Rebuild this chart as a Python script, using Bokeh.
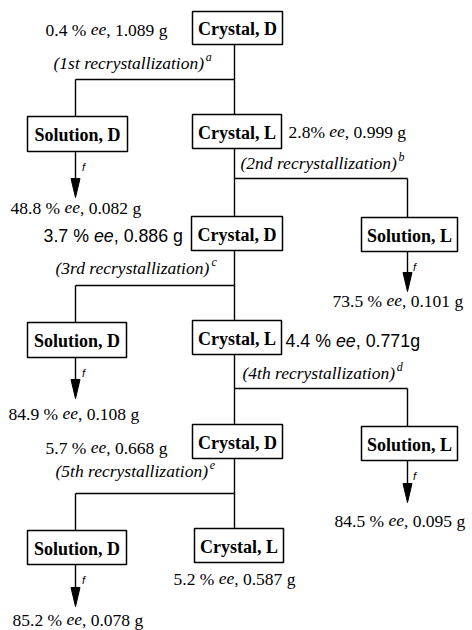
from bokeh.plotting import figure
from bokeh.models import Range1d
from bokeh.core.properties import value
from bokeh.embed import file_html
from bokeh.resources import INLINE

# ---------------- data ----------------
node_labels = ["Crystal, D", "Solution, D", "Crystal, L", "Crystal, D", "Solution, L",
               "Solution, D", "Crystal, L", "Crystal, D", "Solution, L", "Solution, D", "Crystal, L"]
ee_pct = [0.4, 48.8, 2.8, 3.7, 73.5, 84.9, 4.4, 5.7, 84.5, 85.2, 5.2]
mass_g = [1.089, 0.082, 0.999, 0.886, 0.101, 0.108, 0.771, 0.668, 0.095, 0.078, 0.587]
steps = ["1st", "2nd", "3rd", "4th", "5th"]
step_notes = ["a", "b", "c", "d", "e"]
step_parent = [0, 2, 3, 6, 7]
step_children = [(1, 2), (3, 4), (5, 6), (7, 8), (9, 10)]
solution_nodes = [1, 4, 5, 8, 9]
filtrate_note = "f"

# ---------------- layout (pixel coordinates of the page) ----------------
box_x0 = [192, 27, 192, 191, 361, 27, 192, 192, 361, 27, 194]
box_x1 = [282, 127, 281, 282, 457, 126, 281, 282, 457, 126, 283]
box_y0 = [11, 116, 114, 216, 217, 322, 320, 424, 426, 530, 528]
box_h = [33, 35, 34, 34, 34, 35, 34, 34, 34, 34, 34]
trunk_x = 234
branch_y = [79, 178, 285, 388, 493]
branch_side_x = [75, 407, 75, 407, 75]
arrow_tip_y = [197, 291, 398, 502, 606]
step_lx = [53, 240, 55, 242, 55]
step_ly = [62, 162, 267, 372, 470]
val_lx = [45, 10, 288, 43, 332, 8, 285, 45, 334, 12, 173]
val_ly = [29, 207, 131, 235, 300, 413, 340, 447, 520, 619, 578]
val_sans = [False, False, False, True, False, False, True, False, False, False, False]
pct_space = [True, True, False, True, True, True, True, True, True, True, True]
g_space = [True, True, True, True, True, True, False, True, True, True, True]

SERIF = "Liberation Serif"
SANS = "Liberation Sans"
FS_BOX = 18
FS = 17.5
FS_SANS = 17.8

# approximate advance widths (1/1000 em)
TIMES = {" ": 250, "%": 833, ",": 250, ".": 250, "g": 500, "e": 444}
TIMES_I = {"(": 333, ")": 333, " ": 250, "e": 444, "c": 444, "y": 444, "a": 500, "l": 278,
           "i": 278, "z": 389, "o": 500, "n": 500, "s": 389, "t": 278, "r": 389, "d": 500, "h": 500}
HELV = {" ": 278, "%": 889, ",": 278, ".": 278, "g": 556, "e": 556}


def tw(s, table, size, default):
    return sum(table.get(c, default) for c in s) / 1000.0 * size


p = figure(width=472, height=630, x_range=Range1d(0, 472), y_range=Range1d(630, 0),
           output_backend="svg", toolbar_location=None, min_border=0)
p.axis.visible = False
p.grid.visible = False
p.outline_line_color = None
p.background_fill_color = "white"
p.border_fill_color = "white"

# boxes
bx = [(a + b) / 2 for a, b in zip(box_x0, box_x1)]
bw = [b - a for a, b in zip(box_x0, box_x1)]
by = [y + h / 2 for y, h in zip(box_y0, box_h)]
p.rect(x=bx, y=by, width=bw, height=box_h, fill_color="white",
       line_color="black", line_width=1.5)
p.text(x=bx, y=[y + 1 for y in by], text=node_labels, text_align="center", text_baseline="middle",
       text_font=value(SERIF), text_font_style="bold", text_font_size=f"{FS_BOX}px", text_color="black")

# connecting lines
xs, ys = [], []
for i, par in enumerate(step_parent):
    bot = box_y0[par] + box_h[par]
    xs.append([trunk_x, trunk_x]); ys.append([bot, branch_y[i]])
    xs.append([min(trunk_x, branch_side_x[i]), max(trunk_x, branch_side_x[i])])
    ys.append([branch_y[i], branch_y[i]])
    for c in step_children[i]:
        cx = trunk_x if node_labels[c].startswith("Crystal") else branch_side_x[i]
        xs.append([cx, cx]); ys.append([branch_y[i], box_y0[c]])
# arrows from solutions
hx, hy = [], []
for k, n in enumerate(solution_nodes):
    ax = 75 if box_x0[n] < 200 else 407
    tip = arrow_tip_y[k]
    xs.append([ax, ax]); ys.append([box_y0[n] + box_h[n], tip - 10])
    hx.append([ax, ax - 4.5, ax + 4.5]); hy.append([tip, tip - 19, tip - 19])
p.multi_line(xs=xs, ys=ys, line_color="black", line_width=1.4)
p.patches(xs=hx, ys=hy, fill_color="black", line_color="black", line_width=1)

# "f" notes
fx = [75 + 8 if box_x0[n] < 200 else 407 + 7 for n in solution_nodes]
fy = [box_y0[n] + box_h[n] + 15 for n in solution_nodes]
p.text(x=fx, y=fy, text=[filtrate_note] * len(fx), text_align="center", text_baseline="middle",
       text_font=value(SANS), text_font_style="italic", text_font_size="11px", text_color="black")

# step labels with superscripts
st_txt = [f"({s} recrystallization)" for s in steps]
p.text(x=step_lx, y=step_ly, text=st_txt, text_align="left", text_baseline="middle",
       text_font=value(SERIF), text_font_style="italic", text_font_size=f"{FS}px", text_color="black")
sup_x = [x + tw(t, TIMES_I, FS, 500) + 1 for x, t in zip(step_lx, st_txt)]
sup_y = [y - 6 for y in step_ly]
p.text(x=sup_x, y=sup_y, text=step_notes, text_align="left", text_baseline="middle",
       text_font=value(SERIF), text_font_style="italic", text_font_size="12px", text_color="black")

# value labels: "<ee> % ee, <mass> g"
for sans in (False, True):
    font = SANS if sans else SERIF
    size = FS_SANS if sans else FS
    table = HELV if sans else TIMES
    dflt = 556 if sans else 500
    pre_x, pre_y, pre_t, ee_x, suf_x, suf_t = [], [], [], [], [], []
    for i in range(len(ee_pct)):
        if val_sans[i] != sans:
            continue
        pre = f"{ee_pct[i]:.1f}{' ' if pct_space[i] else ''}% "
        suf = f", {mass_g[i]:.3f}{' ' if g_space[i] else ''}g"
        x0 = val_lx[i]
        x1 = x0 + tw(pre, table, size, dflt)
        x2 = x1 + tw("ee", table, size, dflt)
        pre_x.append(x0); pre_y.append(val_ly[i]); pre_t.append(pre)
        ee_x.append(x1); suf_x.append(x2); suf_t.append(suf)
    common = dict(text_align="left", text_baseline="middle", text_font=value(font),
                  text_font_size=f"{size}px", text_color="black")
    p.text(x=pre_x, y=pre_y, text=pre_t, **common)
    p.text(x=ee_x, y=pre_y, text=["ee"] * len(ee_x), text_font_style="italic", **common)
    p.text(x=suf_x, y=pre_y, text=suf_t, **common)

open("out.html", "w").write(file_html(p, INLINE))
